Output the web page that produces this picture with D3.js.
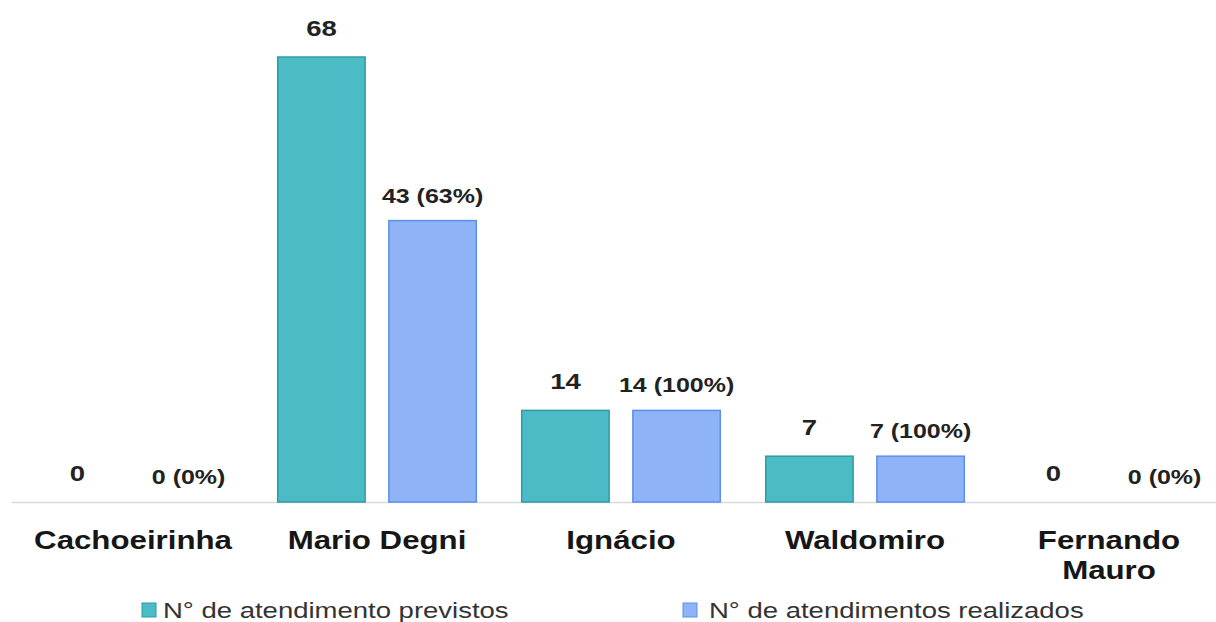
<!DOCTYPE html>
<html>
<head>
<meta charset="utf-8">
<script src="https://cdn.jsdelivr.net/npm/d3@7"></script>
<style>
  body { margin: 0; background: #fff; }
  svg text { font-family: "Liberation Sans", Arial, sans-serif; }
</style>
</head>
<body>
<div id="chart"></div>
<script>
'use strict';

// unidades
var categories = ['Cachoeirinha', 'Mario Degni', 'Ignácio', 'Waldomiro', 'Fernando Mauro'];
var series = ['N° de atendimento previstos', 'N° de atendimentos realizados'];
var previstos = [0, 68, 14, 7, 0];
var realizados = [0, 43, 14, 7, 0];
var colors = ['#4bbcc5', '#8eb4f7'];
var strokes = ['#2e9ca3', '#5a8ef0'];

var width = 1216;
var height = 622;
var baseY = 502;
var sx = 1.25; // text in the picture is stretched sideways

var svg = d3.select('#chart')
  .append('svg')
  .attr('width', width)
  .attr('height', height);

var x0 = d3.scaleBand()
  .domain(categories)
  .range([11, 1231])
  .paddingInner(0.18)
  .paddingOuter(0.09);

var x1 = d3.scaleBand()
  .domain(series)
  .range([0, x0.bandwidth()])
  .paddingInner(0.2);

var y = d3.scaleLinear()
  .domain([0, d3.max(previstos)])
  .range([baseY, 57]);

var rows = categories.map(function(c, i) {
  return { cat: c, values: [previstos[i], realizados[i]] };
});

// axis line only
var axis = svg.append('g')
  .attr('transform', 'translate(0,' + baseY + ')')
  .call(d3.axisBottom(x0).tickSize(0).tickFormat(''));
axis.select('.domain').attr('stroke', '#d9d9d9').attr('stroke-width', 1.5);

var groups = svg.selectAll('.grp')
  .data(rows)
  .enter()
  .append('g')
  .attr('class', 'grp')
  .attr('transform', function(d) { return 'translate(' + x0(d.cat) + ',0)'; });

groups.selectAll('rect')
  .data(function(d) { return d.values.map(function(v, j) { return { v: v, s: series[j], j: j }; }); })
  .enter()
  .filter(function(d) { return d.v > 0; })
  .append('rect')
  .attr('x', function(d) { return x1(d.s) + 0.75; })
  .attr('y', function(d) { return y(d.v); })
  .attr('width', x1.bandwidth() - 1.5)
  .attr('height', function(d) { return baseY - y(d.v); })
  .attr('fill', function(d) { return colors[d.j]; })
  .attr('stroke', function(d) { return strokes[d.j]; })
  .attr('stroke-width', 1.5);

// value labels
groups.each(function(d) {
  var g = d3.select(this);
  var p = d.values[0], r = d.values[1];
  var pct = p > 0 ? Math.round(r / p * 100) : 0;
  var labels = [String(p), r + ' (' + pct + '%)'];
  labels.forEach(function(t, j) {
    g.append('text')
      .attr('transform', 'translate(' + (x1(series[j]) + x1.bandwidth() / 2) + ',' + (y(d.values[j]) - (j === 0 ? 21 : 18)) + ') scale(' + sx + ',1)')
      .attr('text-anchor', 'middle')
      .attr('font-size', j === 0 ? 22 : 20)
      .attr('font-weight', 'bold')
      .attr('fill', '#222')
      .text(t);
  });
});

// category labels, wrapped when too wide
svg.selectAll('.cat')
  .data(categories)
  .enter()
  .append('text')
  .attr('class', 'cat')
  .attr('transform', function(d) { return 'translate(' + (x0(d) + x0.bandwidth() / 2) + ',549) scale(' + sx + ',1)'; })
  .attr('text-anchor', 'middle')
  .attr('font-size', 25)
  .attr('font-weight', 'bold')
  .attr('fill', '#161616')
  .text(function(d) { return d; })
  .each(function(d) {
    var t = d3.select(this);
    if (this.getComputedTextLength() * sx > x0.step() - 20) {
      var words = d.split(' ');
      t.text(null);
      words.forEach(function(w, k) {
        t.append('tspan').attr('x', 0).attr('dy', k === 0 ? 0 : 30).text(w);
      });
    }
  });

// legend
var legendX = [142, 683];
var legendGap = [21, 26];
var legend = svg.selectAll('.leg')
  .data(series)
  .enter()
  .append('g')
  .attr('class', 'leg')
  .attr('transform', function(d, i) { return 'translate(' + legendX[i] + ',603)'; });

legend.append('rect')
  .attr('width', 14)
  .attr('height', 14)
  .attr('fill', function(d, i) { return colors[i]; })
  .attr('stroke', function(d, i) { return strokes[i]; })
  .attr('stroke-width', 1);

legend.append('text')
  .attr('transform', function(d, i) { return 'translate(' + legendGap[i] + ',15) scale(' + sx + ',1)'; })
  .attr('font-size', 22)
  .attr('fill', '#333')
  .text(function(d) { return d; });
</script>
</body>
</html>
